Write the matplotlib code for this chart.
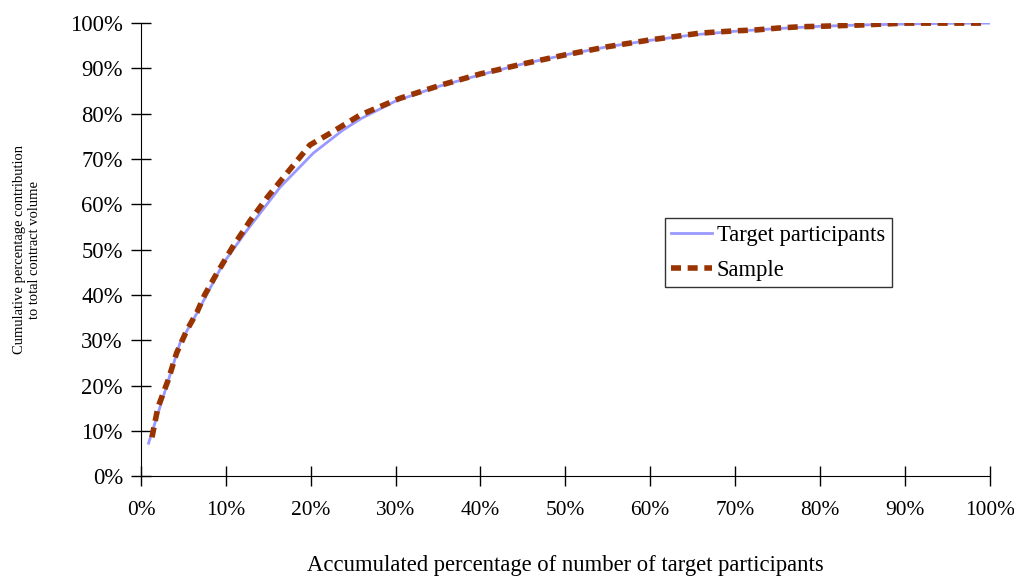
import matplotlib
matplotlib.use("Agg")
import matplotlib.pyplot as plt
from matplotlib.ticker import PercentFormatter

plt.rcParams["font.family"] = ["Liberation Serif", "DejaVu Serif"]

# (percent)
target_x = [0.9, 2.6, 4.6, 6.6, 9.7, 12.5, 16.4, 20.3, 23.8, 26, 30,
            35, 40, 45, 50, 55, 60, 65, 70, 75, 80, 85, 90, 95, 100]
target_y = [7.3, 17.4, 29.4, 36, 47, 54.3, 63.8, 71.3, 76.4, 79, 82.8,
            86, 88.6, 91, 93, 94.8, 96.2, 97.4, 98.2, 98.8, 99.3, 99.6, 99.8, 99.95, 100]

sample_x = [1.3, 2.0, 3.2, 4.2, 5.4, 6.6, 7.5, 8.7, 10.8, 12.9, 14.9, 17.2, 19.9, 22.3,
            25.8, 30.5, 35.3, 40, 45, 50, 55, 60, 65.9, 70, 72.5, 75, 77.7, 80, 85, 90.1, 95, 99.6]
sample_y = [8.6, 15.2, 21.2, 27.2, 32.2, 36.2, 40, 44, 50.6, 56.5, 61.6, 66.9, 73.1, 75.7,
            79.7, 83.4, 86.3, 88.8, 91, 93, 94.8, 96.3, 97.8, 98.3, 98.5, 98.9, 99.2, 99.3, 99.6, 100, 100, 100]

fig = plt.figure(figsize=(10.14, 5.78), dpi=100)
ax = fig.add_axes([0.139, 0.176, 0.837, 0.784])

ax.plot(target_x, target_y, color="#9999FF", lw=2, label="Target participants")
ax.plot(sample_x, sample_y, color="#993300", lw=4, dashes=(1.8, 1.2), label="Sample")

ax.set_xlim(0, 100)
ax.set_ylim(0, 100)
ax.set_xticks(range(0, 101, 10))
ax.set_yticks(range(0, 101, 10))
ax.xaxis.set_major_formatter(PercentFormatter(decimals=0))
ax.yaxis.set_major_formatter(PercentFormatter(decimals=0))
ax.tick_params(direction="inout", length=14, width=1, labelsize=16.3)
ax.tick_params(axis="x", pad=11, labelsize=15.4)
ax.tick_params(axis="y", pad=6)
ax.spines["top"].set_visible(False)
ax.spines["right"].set_visible(False)

ax.set_xlabel("Accumulated percentage of number of target participants", fontsize=16.3, labelpad=25)
ax.set_ylabel("Cumulative percentage contribution\nto total contract volume", fontsize=10.5, labelpad=21)

leg = ax.legend(loc="upper left", bbox_to_anchor=(0.617, 0.5695), fontsize=16.3,
                frameon=True, fancybox=False, edgecolor="black", handlelength=1.8,
                borderpad=0.3, borderaxespad=0, labelspacing=0.6, handletextpad=0.2)
leg.get_frame().set_linewidth(1)

fig.savefig("out.png", dpi=100)
